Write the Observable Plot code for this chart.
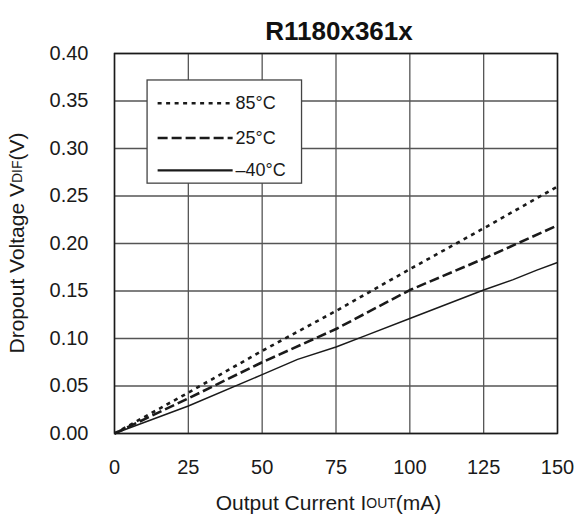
<!DOCTYPE html>
<html>
<head>
<meta charset="utf-8">
<script src="https://cdn.jsdelivr.net/npm/d3@7"></script>
<script src="https://cdn.jsdelivr.net/npm/@observablehq/plot@0.6"></script>
<style>
  html, body { margin: 0; padding: 0; background: #fff; }
  svg { display: block; }
</style>
</head>
<body>
<div id="chart"></div>
<script>
const title = "R1180x361x";
const xTicks = [0, 25, 50, 75, 100, 125, 150];
const yTicks = [0, 0.05, 0.10, 0.15, 0.20, 0.25, 0.30, 0.35, 0.40];

const seriesNames = ["85°C", "25°C", "\u201340°C"];
const current85 = [0, 25, 50, 75, 100, 125, 150];
const voltage85 = [0, 0.043, 0.087, 0.129, 0.173, 0.216, 0.260];
const current25 = [0, 25, 50, 75, 100, 125, 150];
const voltage25 = [0, 0.037, 0.075, 0.110, 0.151, 0.184, 0.219];
const currentM40 = [0, 25, 50, 62, 75, 85, 100, 125, 135, 143, 150];
const voltageM40 = [0, 0.029, 0.062, 0.078, 0.091, 0.103, 0.121, 0.151, 0.162, 0.172, 0.180];

const dashes = ["4,4.5", "10,4", null];
const widths = [2.6, 2.6, 1.5];

const series = [
  {name: seriesNames[0], xs: current85, ys: voltage85},
  {name: seriesNames[1], xs: current25, ys: voltage25},
  {name: seriesNames[2], xs: currentM40, ys: voltageM40}
].map((s, i) => ({...s, i, rows: s.xs.map((x, j) => ({x, y: s.ys[j]}))}));

// legend layout (in data units)
const legendBox = {x1: 11.2, x2: 63.5, y1: 0.263, y2: 0.3716};
const legendRowsY = [0.3477, 0.311, 0.277];
const legendLineX = [14.6, 40.0];
const legendTextX = 41.0;

const ink = "#1a1a1a";
const font = "'Liberation Sans', Arial, sans-serif";

const plot = Plot.plot({
  width: 579,
  height: 519,
  marginLeft: 114,
  marginRight: 22,
  marginTop: 53,
  marginBottom: 86,
  style: {fontFamily: font, fontSize: "20px", color: ink, background: "#fff"},
  x: {domain: [0, 150], ticks: xTicks, label: null},
  y: {domain: [0, 0.4], ticks: yTicks, label: null},
  marks: [
    Plot.gridX(xTicks, {stroke: "#555", strokeOpacity: 1, strokeWidth: 1.3}),
    Plot.gridY(yTicks, {stroke: "#555", strokeOpacity: 1, strokeWidth: 1.3}),
    Plot.axisX(xTicks, {tickSize: 0, tickPadding: 26, fontSize: 20, fill: ink}),
    Plot.axisY(yTicks, {tickSize: 0, tickPadding: 26, fontSize: 20, fill: ink, tickFormat: d3.format(".2f")}),
    ...series.map(s => Plot.line(s.rows, {x: "x", y: "y", stroke: ink, strokeWidth: widths[s.i], strokeDasharray: dashes[s.i], strokeLinecap: "butt"})),
    Plot.frame({stroke: ink, strokeWidth: 1.5}),
    // legend
    Plot.rect([legendBox], {x1: "x1", x2: "x2", y1: "y1", y2: "y2", fill: "#fff", stroke: "#444", strokeWidth: 1.3}),
    ...series.map(s => Plot.line(legendLineX.map(x => ({x, y: legendRowsY[s.i]})), {x: "x", y: "y", stroke: ink, strokeWidth: s.i === 2 ? 2.4 : 2.6, strokeDasharray: dashes[s.i], strokeLinecap: "butt"})),
    Plot.text(series, {x: () => legendTextX, y: d => legendRowsY[d.i], text: "name", textAnchor: "start", fontSize: 18, fill: ink}),
    Plot.text([title], {frameAnchor: "top", dx: 3, dy: -32, fontWeight: "bold", fontSize: 26, fill: "#111"})
  ]
});

document.getElementById("chart").appendChild(plot);

// axis labels with small-caps subscripts
const svg = d3.select(plot);
const xs = plot.scale("x"), ysc = plot.scale("y");
const cx = (xs.range[0] + xs.range[1]) / 2;
const cy = (ysc.range[0] + ysc.range[1]) / 2;

const xl = svg.append("text")
  .attr("x", cx - 7).attr("y", 504)
  .attr("text-anchor", "middle").attr("dominant-baseline", "middle")
  .attr("font-size", 21).attr("fill", ink)
  .attr("font-family", font);
xl.append("tspan").text("Output Current I");
xl.append("tspan").attr("font-size", 14).text("OUT");
xl.append("tspan").text("(mA)");

const yl = svg.append("text")
  .attr("transform", `translate(18,${cy}) rotate(-90)`)
  .attr("text-anchor", "middle").attr("dominant-baseline", "middle")
  .attr("font-size", 21).attr("fill", ink)
  .attr("font-family", font);
yl.append("tspan").text("Dropout Voltage V");
yl.append("tspan").attr("font-size", 14).text("DIF");
yl.append("tspan").text("(V)");
</script>
</body>
</html>
